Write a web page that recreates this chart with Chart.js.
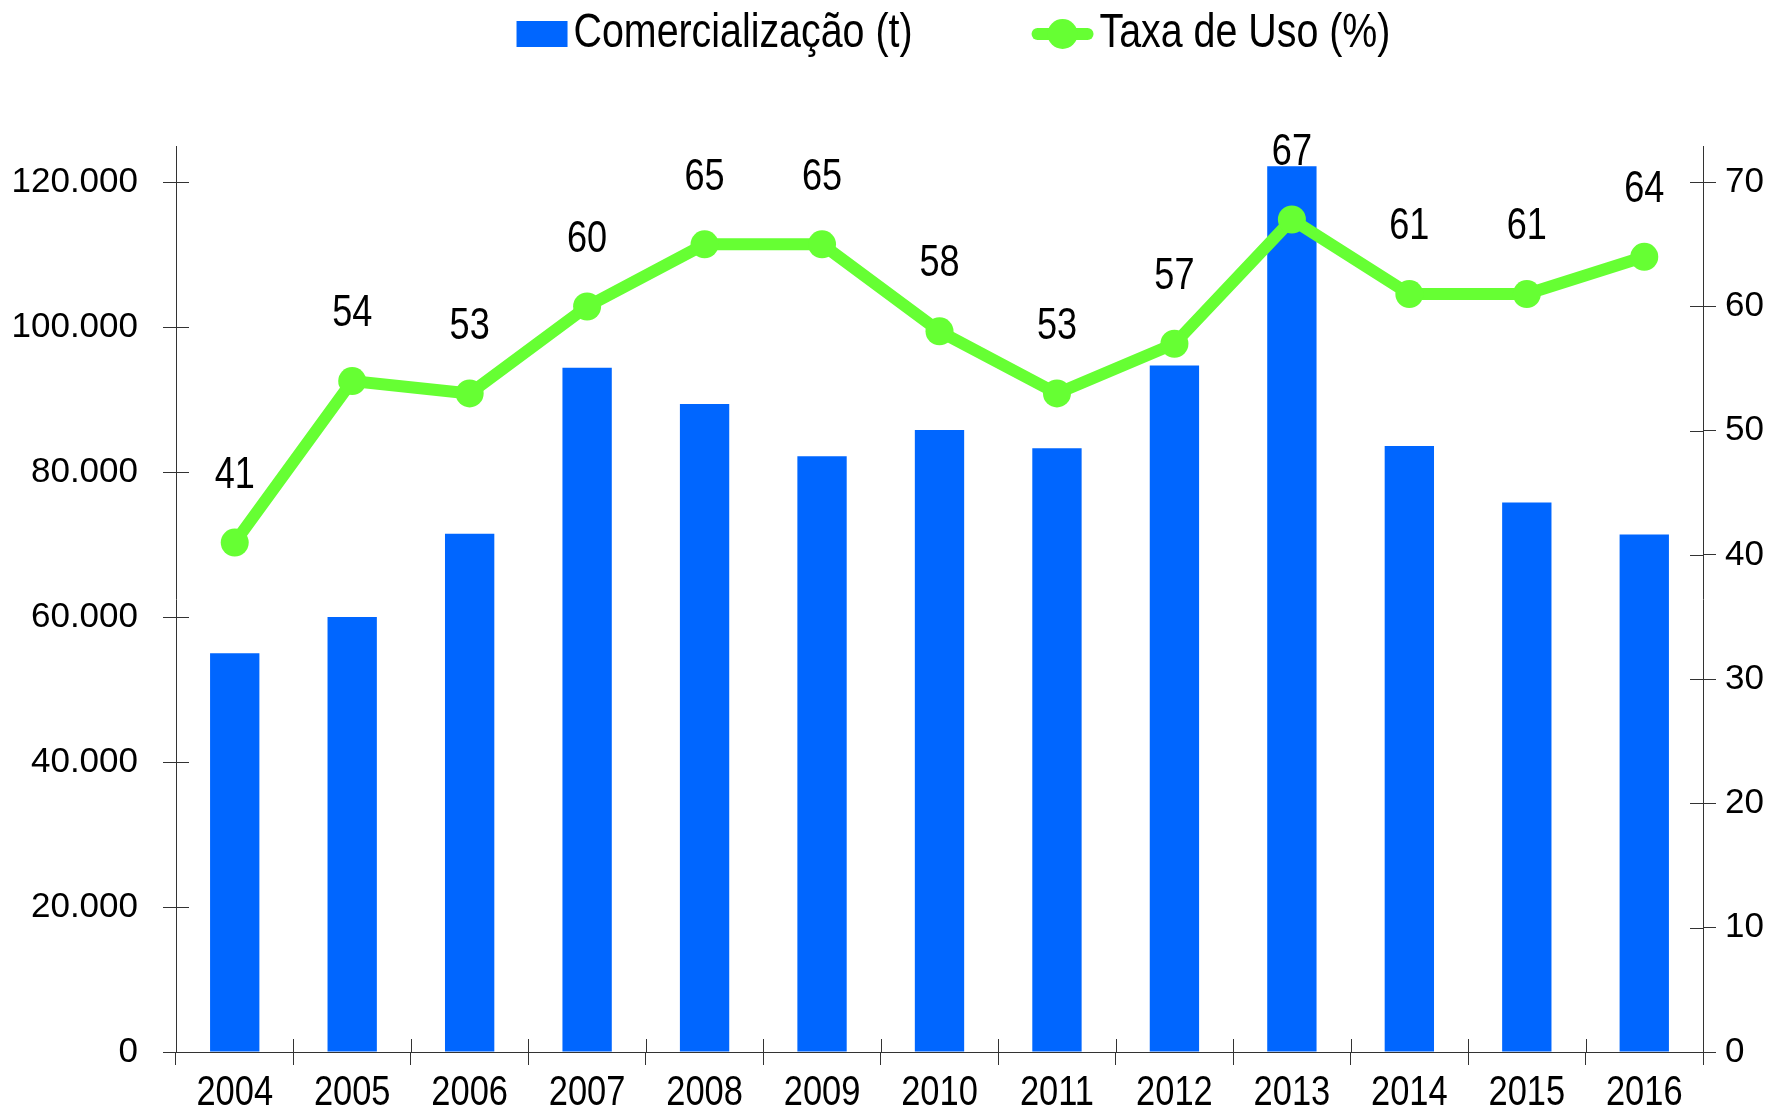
<!DOCTYPE html>
<html><head><meta charset="utf-8">
<script src="https://cdn.jsdelivr.net/npm/chart.js@4.4.1/dist/chart.umd.min.js"></script>
<style>html,body{margin:0;padding:0;background:#fff}#wrap{width:1783px;height:1110px}</style>
</head><body><div id="wrap"><canvas id="c" width="1783" height="1110"></canvas></div>
<script>
const categories = ['2004','2005','2006','2007','2008','2009','2010','2011','2012','2013','2014','2015','2016'];
const comercializacao = [55000, 60000, 71500, 94400, 89400, 82200, 85800, 83300, 94700, 122200, 83600, 75800, 71400];
const taxaUso = [41, 54, 53, 60, 65, 65, 58, 53, 57, 67, 61, 61, 64];
const leftTicks = [0, 20000, 40000, 60000, 80000, 100000, 120000];
const rightTicks = [0, 10, 20, 30, 40, 50, 60, 70];
const seriesNames = ['Comercialização (t)', 'Taxa de Uso (%)'];

const BLUE = '#0066ff', GREEN = '#66ff33', AXIS = '#333333';
const REG = "'Liberation Sans', Arial, sans-serif";
const SQUEEZE = 0.82;
const LEFT_MAX = 125000, RIGHT_MAX = 125000 * 70 / 120000;

const fmt = v => String(v).replace(/\B(?=(\d{3})+(?!\d))/g, '.');

function narrowText(ctx, text, x, y, size, align, baseline) {
  ctx.save();
  ctx.font = size + 'px ' + REG;
  ctx.textBaseline = baseline || 'middle';
  const w = ctx.measureText(text).width * SQUEEZE;
  let left = x;
  if (align === 'center') left = x - w / 2;
  else if (align === 'right') left = x - w;
  ctx.translate(left, y);
  ctx.scale(SQUEEZE, 1);
  ctx.textAlign = 'left';
  ctx.fillStyle = '#000';
  ctx.fillText(text, 0, 0);
  ctx.restore();
  return w;
}
function narrowWidth(ctx, text, size) {
  ctx.save(); ctx.font = size + 'px ' + REG;
  const w = ctx.measureText(text).width * SQUEEZE; ctx.restore(); return w;
}

const innerTicks = {
  id: 'innerTicks',
  afterDraw(chart) {
    const ctx = chart.ctx, s = chart.scales, L = 13;
    ctx.save(); ctx.strokeStyle = AXIS; ctx.lineWidth = 1;
    ctx.beginPath();
    s.y.ticks.forEach(t => { const y = Math.round(s.y.getPixelForValue(t.value)) + 0.5; ctx.moveTo(s.y.right, y); ctx.lineTo(s.y.right + L, y); });
    s.y1.ticks.forEach(t => { const y = Math.round(s.y1.getPixelForValue(t.value)) + 0.5; ctx.moveTo(s.y1.left, y); ctx.lineTo(s.y1.left - L, y); });
    const n = categories.length;
    for (let i = 1; i < n; i++) {
      const x = Math.round((s.x.getPixelForValue(i - 1) + s.x.getPixelForValue(i)) / 2) + 0.5;
      ctx.moveTo(x, s.x.top); ctx.lineTo(x, s.x.top - L);
    }
    ctx.stroke(); ctx.restore();
  }
};

const xLabels = {
  id: 'xLabels',
  afterDraw(chart) {
    const ctx = chart.ctx, sx = chart.scales.x;
    categories.forEach((c, i) => narrowText(ctx, c, sx.getPixelForValue(i), sx.top + 53, 42, 'center', 'alphabetic'));
  }
};

const dataLabels = {
  id: 'dataLabels',
  afterDatasetsDraw(chart) {
    const ctx = chart.ctx;
    const meta = chart.getDatasetMeta(0);
    meta.data.forEach((p, i) => narrowText(ctx, String(taxaUso[i]), p.x, p.y - 67, 44, 'center', 'middle'));
  }
};

const customLegend = {
  id: 'customLegend',
  afterDraw(chart) {
    const ctx = chart.ctx, size = 48;
    const w1 = narrowWidth(ctx, seriesNames[0], size), w2 = narrowWidth(ctx, seriesNames[1], size);
    const sym1 = 51, sym2 = 62, gapT = 6, gapItems = 119;
    const total = sym1 + gapT + w1 + gapItems + sym2 + gapT + w2;
    let x = (chart.width - total) / 2 + 62;
    const cy = 34;
    ctx.save();
    ctx.fillStyle = BLUE; ctx.fillRect(x, cy - 13, sym1, 26);
    ctx.restore();
    x += sym1 + gapT;
    narrowText(ctx, seriesNames[0], x, cy, size, 'left', 'middle');
    x += w1 + gapItems;
    ctx.save();
    ctx.strokeStyle = GREEN; ctx.lineWidth = 12; ctx.lineCap = 'round';
    ctx.beginPath(); ctx.moveTo(x + 6, cy); ctx.lineTo(x + sym2 - 6, cy); ctx.stroke();
    ctx.fillStyle = GREEN; ctx.beginPath(); ctx.arc(x + sym2 / 2, cy, 15, 0, Math.PI * 2); ctx.fill();
    ctx.restore();
    x += sym2 + gapT;
    narrowText(ctx, seriesNames[1], x, cy, size, 'left', 'middle');
  }
};

new Chart(document.getElementById('c'), {
  type: 'bar',
  data: {
    labels: categories,
    datasets: [
      { type: 'line', label: seriesNames[1], data: taxaUso, yAxisID: 'y1', order: 1,
        borderColor: GREEN, backgroundColor: GREEN, borderWidth: 12, tension: 0,
        pointRadius: 14, pointHoverRadius: 14, pointBackgroundColor: GREEN, pointBorderWidth: 0 },
      { type: 'bar', label: seriesNames[0], data: comercializacao, yAxisID: 'y', order: 2,
        backgroundColor: BLUE, barPercentage: 0.42, categoryPercentage: 1 }
    ]
  },
  options: {
    responsive: false, animation: false, devicePixelRatio: 1,
    layout: { padding: { top: 146, left: 0, right: 0, bottom: 0 } },
    plugins: { legend: { display: false }, tooltip: { enabled: false } },
    scales: {
      x: {
        offset: true,
        grid: { offset: true, drawOnChartArea: false, drawTicks: true, tickLength: 13, color: AXIS },
        border: { color: AXIS, width: 1 },
        ticks: { display: false },
        afterFit(s) { s.height = 58; }
      },
      y: {
        position: 'left', min: 0, max: LEFT_MAX,
        afterBuildTicks(s) { s.ticks = leftTicks.map(v => ({ value: v })); },
        grid: { drawOnChartArea: false, drawTicks: true, tickLength: 13, color: AXIS },
        border: { color: AXIS, width: 1 },
        ticks: { font: { family: REG, size: 35 }, color: '#000', padding: 25, callback: v => fmt(v) },
        afterFit(s) { s.width = 176; }
      },
      y1: {
        position: 'right', min: 0, max: RIGHT_MAX,
        afterBuildTicks(s) { s.ticks = rightTicks.map(v => ({ value: v })); },
        grid: { drawOnChartArea: false, drawTicks: true, tickLength: 13, color: AXIS },
        border: { color: AXIS, width: 1 },
        ticks: { font: { family: REG, size: 35 }, color: '#000', padding: 9 },
        afterFit(s) { s.width = 80; }
      }
    }
  },
  plugins: [innerTicks, xLabels, dataLabels, customLegend]
});
</script></body></html>
